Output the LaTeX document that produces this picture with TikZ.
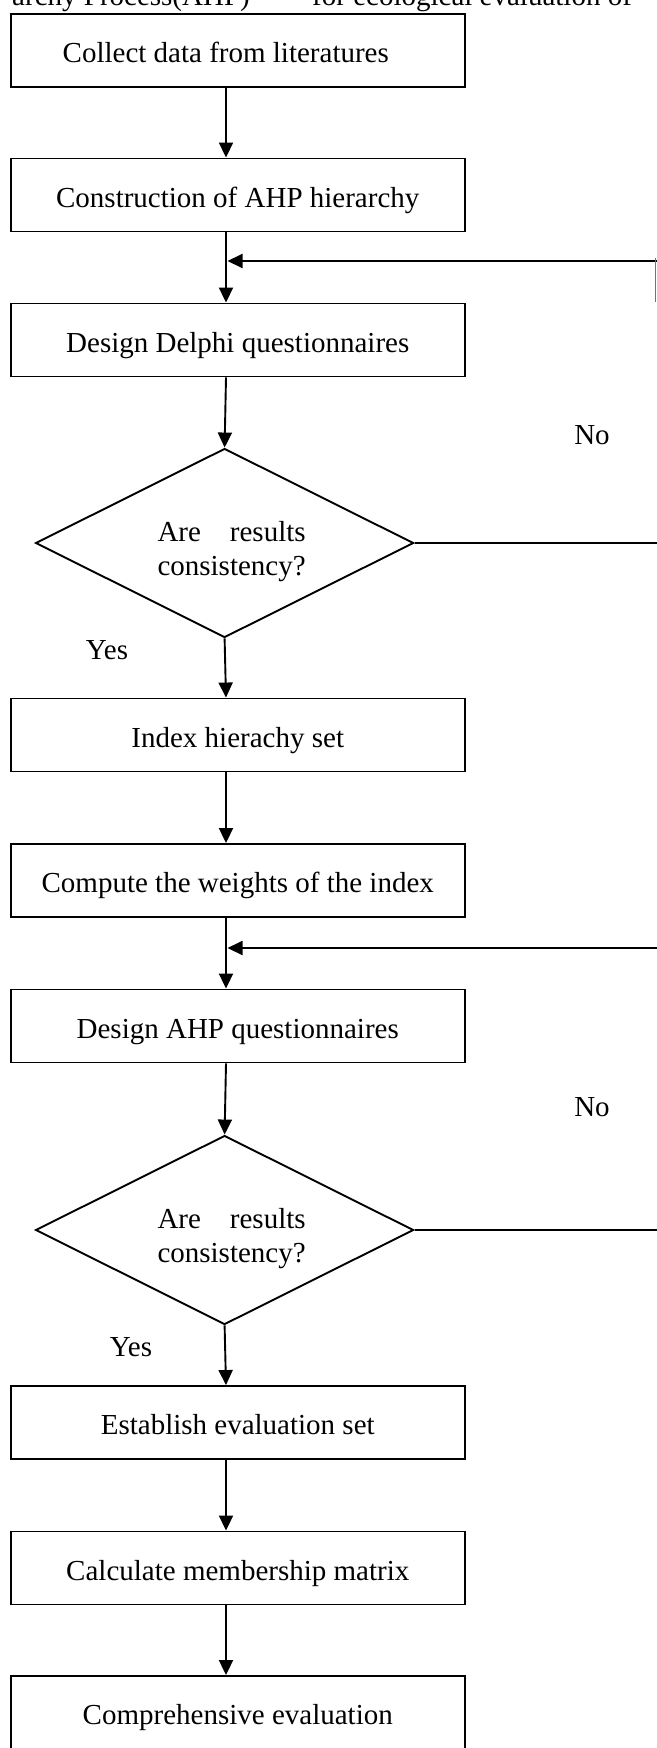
\documentclass[tikz,border=0pt]{standalone}
\usepackage{fontspec}
\setmainfont{Liberation Serif}
\usetikzlibrary{shapes.geometric,arrows.meta}
\begin{document}
\begin{tikzpicture}[x=1pt,y=-1pt,
  every node/.style={font=\fontsize{29}{34}\selectfont},
  stepbox/.style={draw,line width=1.9pt,rectangle,minimum width=454pt,minimum height=73pt,inner sep=0pt,text height=26pt,text depth=2pt},
  decision/.style={draw,line width=1.9pt,diamond,aspect=2,minimum width=378pt,minimum height=189pt,inner sep=0pt},
  flow/.style={line width=1.9pt,-{Triangle[length=15pt,width=14pt]}},
  lbl/.style={inner sep=0pt}]
\useasboundingbox (0,0) rectangle (656,1748);
\fill[white] (0,0) rectangle (656,1748);

% title fragments cut by the top edge
\node[lbl,anchor=base east] (t1) at (250,5) {archy Process(AHP)};
\node[lbl,anchor=base west] (t2) at (312,5) {for ecological evaluation of};

\coordinate (ax) at (226,0);

\node[stepbox] (b1) at (237.75,50.5) {Collect data from literatures\hspace*{24pt}};
\node[stepbox] (b2) at (237.75,195) {Construction of AHP hierarchy};
\node[stepbox] (b3) at (237.75,340) {Design Delphi questionnaires};
\node[decision] (d1) at (224.6,543) {};
\node[lbl] (d1t) at (231.6,552) {\begin{tabular}{@{}l@{}}Are\hfill results\\consistency?\end{tabular}};
\node[stepbox] (b4) at (237.75,735) {Index hierachy set};
\node[stepbox] (b5) at (237.75,880.5) {Compute the weights of the index};
\node[stepbox] (b6) at (237.75,1026) {Design AHP questionnaires};
\node[decision] (d2) at (224.6,1230) {};
\node[lbl] (d2t) at (231.6,1239) {\begin{tabular}{@{}l@{}}Are\hfill results\\consistency?\end{tabular}};
\node[stepbox] (b7) at (237.75,1422.5) {Establish evaluation set};
\node[stepbox] (b8) at (237.75,1568) {Calculate membership matrix};
\node[stepbox] (b9) at (237.75,1712.5) {Comprehensive evaluation};

\node[lbl] (no1) at (592,435) {No};
\node[lbl] (no2) at (592,1107) {No};
\node[lbl] (yes1) at (107,650) {Yes};
\node[lbl] (yes2) at (131,1347) {Yes};

% main flow
\draw[flow] (b1.south -| ax) -- (b2.north -| ax);
\draw[flow] (b2.south -| ax) -- (b3.north -| ax);
\draw[flow] (b3.south -| ax) -- (d1.north);
\draw[flow] (d1.south) -- (b4.north -| ax);
\draw[flow] (b4.south -| ax) -- (b5.north -| ax);
\draw[flow] (b5.south -| ax) -- (b6.north -| ax);
\draw[flow] (b6.south -| ax) -- (d2.north);
\draw[flow] (d2.south) -- (b7.north -| ax);
\draw[flow] (b7.south -| ax) -- (b8.north -| ax);
\draw[flow] (b8.south -| ax) -- (b9.north -| ax);

% feedback loops (vertical part lies at the cropped right edge)
\coordinate (r1) at (663,543);
\coordinate (f1) at (663,261);
\coordinate (j1) at (227.5,261);
\draw[flow] (d1.east) -- (r1) -- (f1) -- (j1);
\coordinate (s1a) at (655.6,258);
\coordinate (s1b) at (655.6,302);
\draw[line width=1pt,black!55] (s1a) -- (s1b);

\coordinate (r2) at (663,1230);
\coordinate (f2) at (663,948);
\coordinate (j2) at (227.5,948);
\draw[flow] (d2.east) -- (r2) -- (f2) -- (j2);
\end{tikzpicture}
\end{document}
